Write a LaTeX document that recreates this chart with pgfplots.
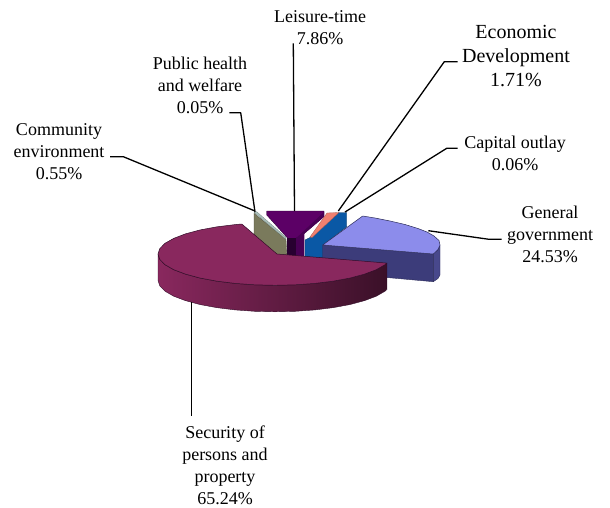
\documentclass[border=0pt]{standalone}
\usepackage{pgfplots}
\pgfplotsset{compat=1.18}
\usepackage{fontspec}
\setmainfont{Liberation Serif}
\definecolor{maroonTop}{RGB}{137,40,94}
\definecolor{maroonMid}{RGB}{118,38,84}
\definecolor{maroonEnd}{RGB}{58,16,40}
\definecolor{maroonEdge}{RGB}{50,12,40}
\definecolor{lilacTop}{RGB}{140,140,235}
\definecolor{lilacWall}{RGB}{60,60,122}
\definecolor{lilacOuter}{RGB}{72,72,140}
\definecolor{lilacEdge}{RGB}{45,45,90}
\definecolor{oceanBlue}{RGB}{10,88,165}
\definecolor{salmon}{RGB}{240,128,112}
\definecolor{plumTop}{RGB}{92,0,102}
\definecolor{plumMid}{RGB}{72,0,84}
\definecolor{plumDark}{RGB}{40,0,48}
\definecolor{olive}{RGB}{122,122,92}
\definecolor{sliver}{RGB}{170,192,186}
\tikzset{
  lab/.style={align=center, font=\fontsize{18}{22}\selectfont},
  labbig/.style={align=center, font=\fontsize{20}{24}\selectfont},
}
\begin{document}
\begin{tikzpicture}
\useasboundingbox (0,0) rectangle (610pt,508pt);
\begin{axis}[
  at={(0,0)}, anchor=south west,
  width=610pt, height=508pt, scale only axis,
  xmin=0, xmax=610, ymin=0, ymax=508, y dir=reverse,
  hide axis, clip=false, no markers,
  every axis plot/.append style={line join=round},
]
% wedges behind the large slice
\addplot[fill=olive, draw=olive!60!black, line width=0.3pt] coordinates {(254,213.3)(286,239.3)(287,258)(265,258)(254,235)} -- cycle;
\addplot[fill=sliver, draw=sliver!70!black, line width=0.3pt] coordinates {(254,212.3)(256.7,211.7)(286,237.3)(286,239.3)} -- cycle;
\addplot[fill=plumTop, draw=plumDark, line width=0.3pt] coordinates {(266.7,211)(324,211)(324,216.7)(304.3,233.5)(296,238.3)(287.7,238.3)(266.7,215)} -- cycle;
\addplot[fill=plumMid, draw=none] coordinates {(296,238.3)(324,212)(324,216.7)(304.3,233.5)(304.3,259)(296,259)} -- cycle;
\addplot[fill=plumDark, draw=none] coordinates {(287,238.3)(296,238.3)(296,259)(287,259)} -- cycle;
\addplot[fill=oceanBlue, draw=oceanBlue!60!black, line width=0.3pt] coordinates {(305,240)(310,237.5)(339,212.5)(346.7,212.5)(346.7,226.7)(323.3,245)(323.3,262)(305,262)} -- cycle;
\addplot[fill=salmon, draw=salmon!70!black, line width=0.3pt] coordinates {(310,237)(327,213)(339,212.5)(312,237.5)} -- cycle;
% general government slice
\addplot[fill=lilacWall, draw=lilacEdge, line width=0.4pt] coordinates {(322.7,245)(433.3,254)(433.3,281.7)(386.7,277.5)(322.7,264)} -- cycle;
\addplot[fill=lilacOuter, draw=lilacEdge, line width=0.4pt] coordinates {(433.3,254)(438,249.5)(440,245)(440,275)(438,278.5)(433.3,281.7)} -- cycle;
\addplot[fill=lilacTop, draw=lilacEdge, line width=0.5pt] coordinates {(322.7,245)(362.7,216)(375,218)(390,221)(405,224.5)(418,228.5)(427,232)(434,236)(439,240.5)(440,245)(438,249.5)(433.3,254)} -- cycle;
% security of persons and property slice
\addplot[left color=maroonTop, middle color=maroonMid, right color=maroonEnd, draw=maroonEdge, line width=0.4pt] coordinates {
  (386.9,263.1)(385,264.7)(376.3,269.7)(364.6,274.1)(350.2,278)(333.5,281.1)(315,283.4)(295.4,284.8)(275,285.3)(254.6,284.8)(235,283.4)(216.5,281.1)(199.8,278)(185.4,274.1)(173.7,269.7)(165,264.7)(159.8,259.4)(158,254)
  (158,280.5)(159.8,285.9)(165,291.2)(173.7,296.2)(185.4,300.6)(199.8,304.5)(216.5,307.6)(235,309.9)(254.6,311.3)(275,311.8)(295.4,311.3)(315,309.9)(333.5,307.6)(350.2,304.5)(364.6,300.6)(376.3,296.2)(385,291.2)(386.9,289.6)
} -- cycle;
\addplot[fill=maroonTop, draw=maroonEdge, line width=0.5pt] coordinates {
  (277,254)(386.9,263.1)(385,264.7)(376.3,269.7)(364.6,274.1)(350.2,278)(333.5,281.1)(315,283.4)(295.4,284.8)(275,285.3)(254.6,284.8)(235,283.4)(216.5,281.1)(199.8,278)(185.4,274.1)(173.7,269.7)(165,264.7)(159.8,259.4)(158,254)(159.8,248.6)(165,243.3)(173.7,238.4)(185.4,233.9)(199.8,230)(216.5,226.9)(235,224.6)(241.8,224)
} -- cycle;
% leader lines
\addplot[black, line width=1.3pt] coordinates {(110,156.7)(123.3,156.7)(255,211)};
\addplot[black, line width=1.3pt] coordinates {(229.3,112.7)(240.7,112.7)(255,212)};
\addplot[black, line width=1.3pt] coordinates {(293.3,43.3)(294.5,211)};
\addplot[black, line width=1.3pt] coordinates {(457.7,61.7)(444.3,61.7)(338.3,211)};
\addplot[black, line width=1.3pt] coordinates {(457.7,148.3)(446.7,148.3)(345,212)};
\addplot[black, line width=1.3pt] coordinates {(501.7,239.3)(489,239.3)(428.3,230.7)};
\addplot[black, line width=1.3pt] coordinates {(191.7,301.7)(191.7,416)};
% labels
\node[lab] at (axis cs:59,152) {Community\\environment\\0.55\%};
\node[lab] at (axis cs:200,85.7) {Public health\\and welfare\\0.05\%};
\node[lab] at (axis cs:320,27.8) {Leisure-time\\7.86\%};
\node[labbig] at (axis cs:516,56) {Economic\\Development\\1.71\%};
\node[lab] at (axis cs:515,153.3) {Capital outlay\\0.06\%};
\node[lab] at (axis cs:550,234.5) {General\\government\\24.53\%};
\node[lab] at (axis cs:225,465.5) {Security of\\persons and\\property\\65.24\%};
\end{axis}
\end{tikzpicture}
\end{document}
